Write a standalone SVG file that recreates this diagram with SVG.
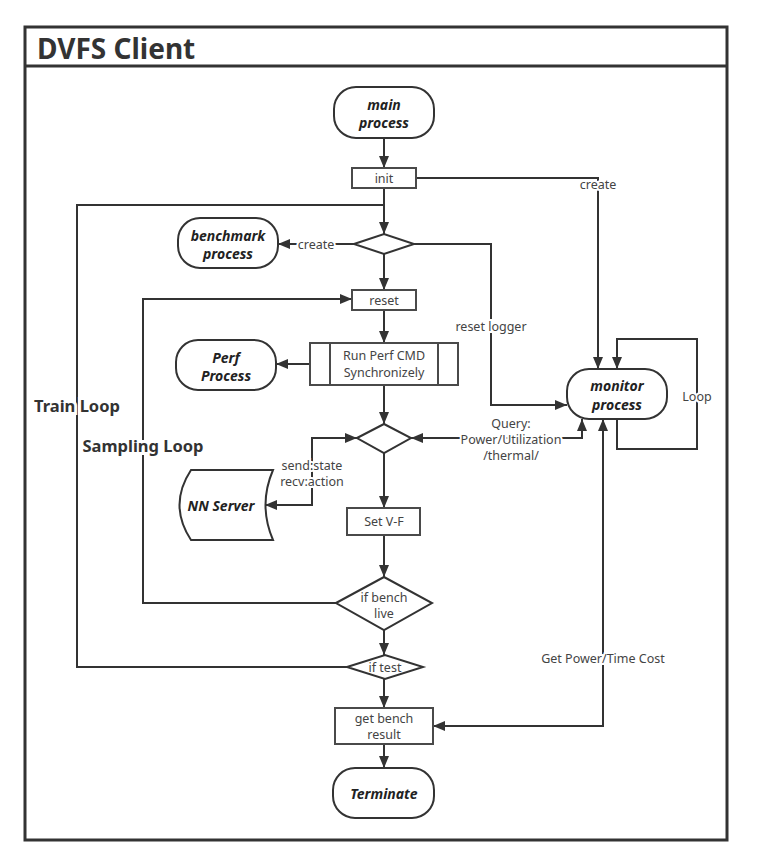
<svg xmlns="http://www.w3.org/2000/svg" width="775" height="865" viewBox="0 0 775 865">
<style>
.n{fill:#fff;stroke:#333;stroke-width:2}
.b{fill:#fff;stroke:#4a4a4a;stroke-width:2}
.c{fill:none;stroke:#333;stroke-width:2}
.t{font-family:"Noto Sans","Open Sans",sans-serif;font-size:12.5px;fill:#444;text-anchor:middle}
.bi{font-family:"Noto Sans","Open Sans",sans-serif;font-size:14px;font-weight:bold;font-style:italic;fill:#222;text-anchor:middle}
.lb{font-family:"Noto Sans","Open Sans",sans-serif;font-size:12.5px;fill:#444;text-anchor:middle;stroke:#fff;stroke-width:4;paint-order:stroke}
.big{font-family:"Noto Sans","Open Sans",sans-serif;font-size:16.5px;font-weight:bold;fill:#333;text-anchor:middle;stroke:#fff;stroke-width:6;paint-order:stroke}
</style>
<defs>
<marker id="a" viewBox="0 0 12 10" refX="12" refY="5" markerWidth="12" markerHeight="10" markerUnits="userSpaceOnUse" orient="auto-start-reverse">
<path d="M0,0 L12,5 L0,10 Z" fill="#333"/>
</marker>
</defs>
<rect width="775" height="865" fill="#fff"/>
<g id="frame">
<rect x="25" y="27" width="702" height="813" fill="none" stroke="#333" stroke-width="3"/>
<line x1="25" y1="66" x2="727" y2="66" stroke="#333" stroke-width="3"/>
<text x="37" y="59" font-family="Noto Sans,Open Sans,sans-serif" font-size="28" font-weight="bold" fill="#333">DVFS Client</text>
</g>
<g id="connectors">
<path class="c" d="M384,138 V168" marker-end="url(#a)"/>
<path class="c" d="M384,188 V234" marker-end="url(#a)"/>
<path class="c" d="M347,667 H77 V205 H384"/>
<path class="c" d="M416,178 H598 V369" marker-end="url(#a)"/>
<path class="c" d="M414,244 H491 V405 H567" marker-end="url(#a)"/>
<path class="c" d="M617,419 V449 H697 V339 H617 V369" marker-end="url(#a)"/>
<path class="c" d="M411,438 H582 V419" marker-start="url(#a)" marker-end="url(#a)"/>
<path class="c" d="M433,726 H603 V419" marker-start="url(#a)" marker-end="url(#a)"/>
<path class="c" d="M354,244 H278" marker-end="url(#a)"/>
<path class="c" d="M384,254 V290" marker-end="url(#a)"/>
<path class="c" d="M336,603 H143 V299 H352" marker-end="url(#a)"/>
<path class="c" d="M384,310 V343" marker-end="url(#a)"/>
<path class="c" d="M310,364 H276" marker-end="url(#a)"/>
<path class="c" d="M384,385 V424" marker-end="url(#a)"/>
<path class="c" d="M357,438 H312 V505 H265" marker-start="url(#a)" marker-end="url(#a)"/>
<path class="c" d="M384,453 V508" marker-end="url(#a)"/>
<path class="c" d="M384,535 V577" marker-end="url(#a)"/>
<path class="c" d="M384,630 V655" marker-end="url(#a)"/>
<path class="c" d="M384,679 V708" marker-end="url(#a)"/>
<path class="c" d="M384,744 V768" marker-end="url(#a)"/>
<text class="lb" x="598" y="189">create</text>
<text class="lb" x="316" y="249">create</text>
<text class="lb" x="491" y="331">reset logger</text>
<text class="lb" x="697" y="401">Loop</text>
<text class="lb" x="511" y="428">Query:</text>
<text class="lb" x="511" y="444">Power/Utilization</text>
<text class="lb" x="511" y="460">/thermal/</text>
<text class="lb" x="312" y="470">send:state</text>
<text class="lb" x="312" y="486">recv:action</text>
<text class="lb" x="603" y="663">Get Power/Time Cost</text>
<text class="big" x="77" y="412">Train Loop</text>
<text class="big" x="143" y="452">Sampling Loop</text>
</g>
<g id="main-process">
<rect class="n" x="334" y="87" width="100" height="51" rx="22"/>
<text class="bi" x="384" y="110">main</text>
<text class="bi" x="384" y="128">process</text>
</g>
<g id="init">
<rect class="b" x="352" y="168" width="64" height="20"/>
<text class="t" x="384" y="183">init</text>
</g>
<g id="decision-1">
<polygon class="n" points="354,244 384,234 414,244 384,254"/>
</g>
<g id="benchmark-process">
<rect class="n" x="178" y="218" width="100" height="50" rx="22"/>
<text class="bi" x="228" y="241">benchmark</text>
<text class="bi" x="228" y="259">process</text>
</g>
<g id="reset">
<rect class="b" x="352" y="290" width="64" height="20"/>
<text class="t" x="384" y="305">reset</text>
</g>
<g id="run-perf">
<rect class="b" x="310" y="343" width="148" height="42"/>
<line x1="330" y1="343" x2="330" y2="385" stroke="#4a4a4a" stroke-width="2"/>
<line x1="438" y1="343" x2="438" y2="385" stroke="#4a4a4a" stroke-width="2"/>
<text class="t" x="384" y="360">Run Perf CMD</text>
<text class="t" x="384" y="377">Synchronizely</text>
</g>
<g id="perf-process">
<rect class="n" x="176" y="340" width="100" height="50" rx="22"/>
<text class="bi" x="226" y="363">Perf</text>
<text class="bi" x="226" y="381">Process</text>
</g>
<g id="decision-2">
<polygon class="n" points="357,438 384,424 411,438 384,453"/>
</g>
<g id="nn-server">
<path class="n" d="M191,470 H273 Q258,505 273,540 H191 Q168,505 191,470 Z"/>
<text class="bi" x="221" y="511">NN Server</text>
</g>
<g id="set-vf">
<rect class="b" x="347" y="508" width="73" height="27"/>
<text class="t" x="384" y="526">Set V-F</text>
</g>
<g id="if-bench-live">
<polygon class="n" points="336,603 384,577 432,603 384,630"/>
<text class="t" x="384" y="602">if bench</text>
<text class="t" x="384" y="618">live</text>
</g>
<g id="if-test">
<polygon class="n" points="347,667 385,655 423,667 385,679"/>
<text class="t" x="385" y="672">if test</text>
</g>
<g id="get-bench-result">
<rect class="b" x="335" y="708" width="98" height="36"/>
<text class="t" x="384" y="723">get bench</text>
<text class="t" x="384" y="739">result</text>
</g>
<g id="terminate">
<rect class="n" x="333" y="768" width="101" height="50" rx="22"/>
<text class="bi" x="384" y="799">Terminate</text>
</g>
<g id="monitor-process">
<rect class="n" x="567" y="369" width="100" height="50" rx="22"/>
<text class="bi" x="617" y="391">monitor</text>
<text class="bi" x="617" y="410">process</text>
</g>
</svg>
